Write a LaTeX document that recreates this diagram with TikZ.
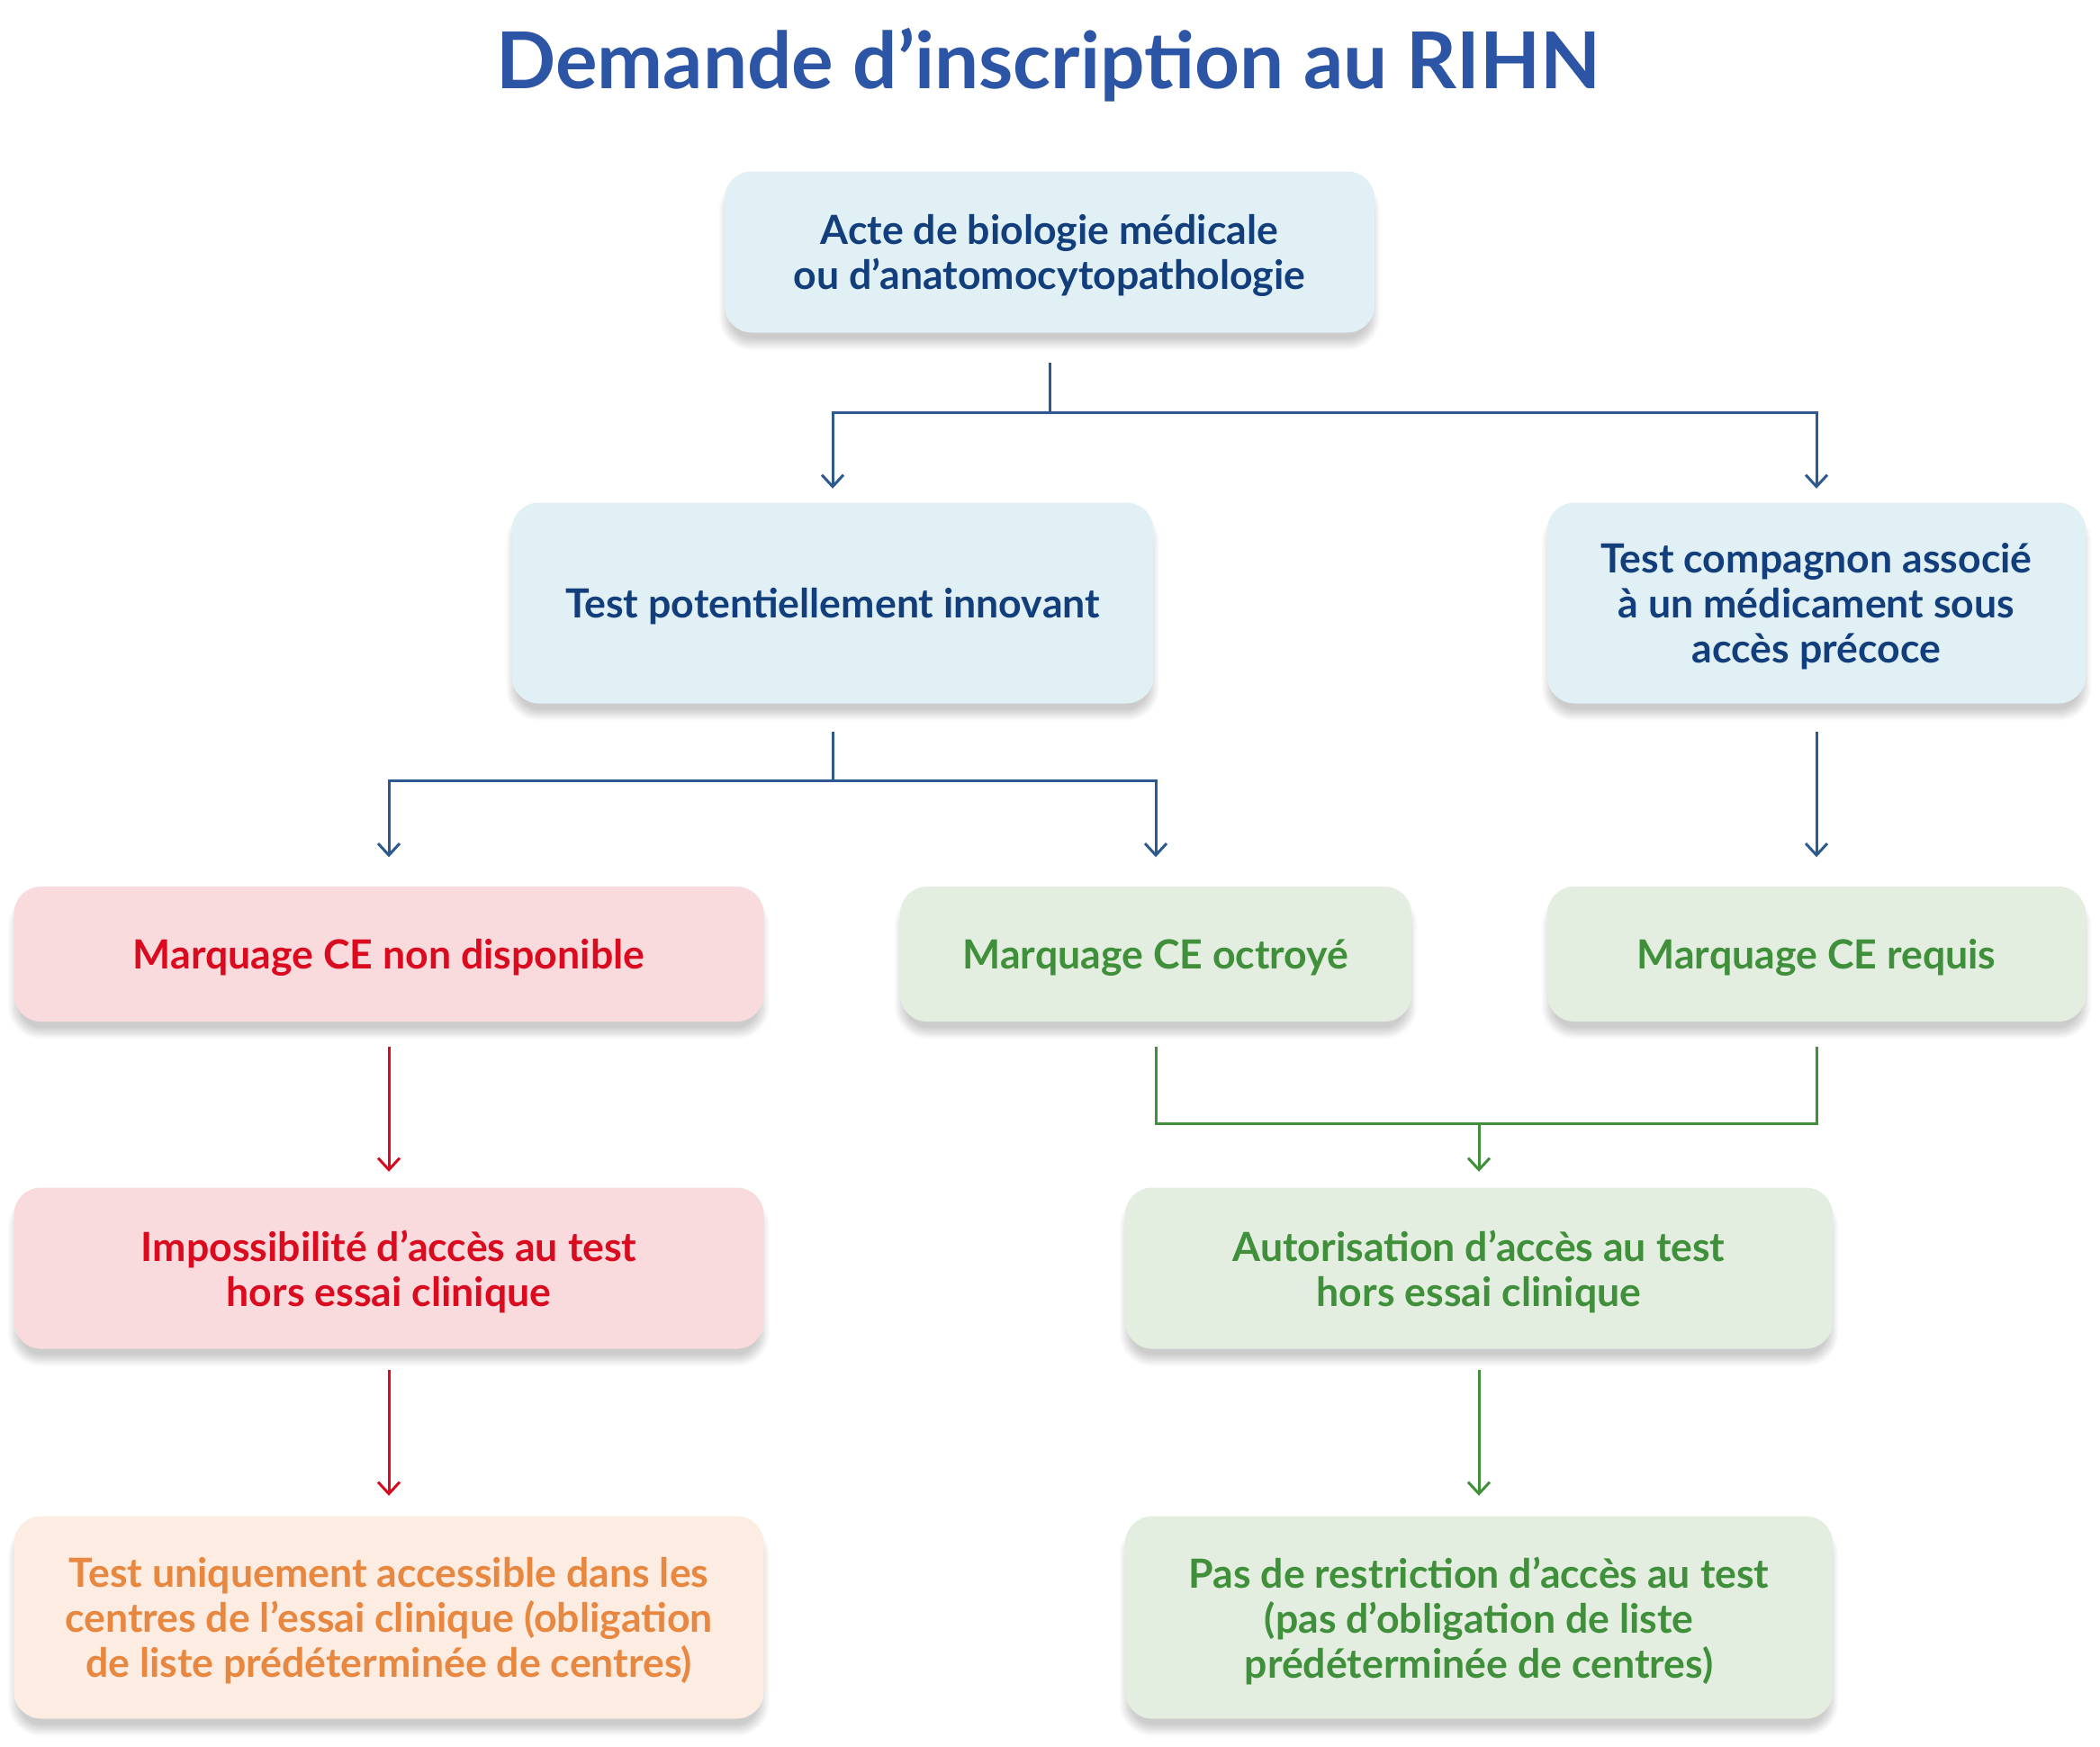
\documentclass[tikz,border=0pt]{standalone}
\usepackage{fontspec}
\setmainfont{Lato}
\usepackage{tikz}
\usepackage{xcolor}
\usetikzlibrary{arrows.meta,shadows.blur}

\definecolor{titleblue}{HTML}{2D55A5}
\definecolor{navytext}{HTML}{123E7C}
\definecolor{navyline}{HTML}{2C5A8E}
\definecolor{bluefill}{HTML}{E0F0F5}
\definecolor{redtext}{HTML}{DA0A1F}
\definecolor{redfill}{HTML}{F9DADD}
\definecolor{greentext}{HTML}{3F8F3B}
\definecolor{greenfill}{HTML}{E3EEE0}
\definecolor{orangetext}{HTML}{E8873F}
\definecolor{orangefill}{HTML}{FCECE2}

\tikzstyle{box} = [rectangle, rounded corners=3mm, align=center, inner sep=0pt, text depth=0pt,
  font=\bfseries\fontsize{12.7}{14.2}\selectfont,
  blur shadow={shadow xshift=0pt, shadow yshift=-1.3mm, shadow blur steps=12, shadow opacity=20}]
\tikzstyle{bluebox} = [box, fill=bluefill, text=navytext]
\tikzstyle{redbox} = [box, fill=redfill, text=redtext]
\tikzstyle{greenbox} = [box, fill=greenfill, text=greentext]
\tikzstyle{orangebox} = [box, fill=orangefill, text=orangetext]
\tikzstyle{link} = [line width=0.85pt]

\begin{document}
\begin{tikzpicture}[>={Straight Barb[length=1.3mm,width=2.4mm]},node distance=3.9cm]
  \useasboundingbox (0,0) rectangle (23.33,-19.40);
  \node[text=titleblue, font=\bfseries\fontsize{24.8}{28}\selectfont] (Titre) at (11.65,-0.72) {Demande d’inscription au RIHN};

  \node[bluebox, minimum width=7.22cm, minimum height=1.79cm] (Acte) at (11.66,-2.80) {Acte de biologie médicale\\ou d’anatomocytopathologie};
  \node[bluebox, minimum width=7.13cm, minimum height=2.23cm] (Innov) at (9.25,-6.70) {Test potentiellement innovant};
  \node[bluebox, minimum width=5.98cm, minimum height=2.23cm] (Compag) at (20.18,-6.70) {Test compagnon associé\\à un médicament sous\\accès précoce};

  \node[redbox, minimum width=8.33cm, minimum height=1.50cm] (NonDisp) at (4.32,-10.60) {Marquage CE non disponible};
  \node[greenbox, minimum width=5.68cm, minimum height=1.50cm] (Octroye) at (12.84,-10.60) {Marquage CE octroyé};
  \node[greenbox, minimum width=5.98cm, minimum height=1.50cm] (Requis) [below of=Compag] {Marquage CE requis};

  \node[redbox, minimum width=8.33cm, minimum height=1.79cm] (Imposs) [below of=NonDisp, node distance=3.49cm] {Impossibilité d’accès au test\\hors essai clinique};
  \node[greenbox, minimum width=7.86cm, minimum height=1.79cm] (Autor) at (16.43,-14.09) {Autorisation d’accès au test\\hors essai clinique};

  \node[orangebox, minimum width=8.33cm, minimum height=2.25cm] (Uniq) [below of=Imposs, node distance=3.88cm] {Test uniquement accessible dans les\\centres de l’essai clinique (obligation\\de liste prédéterminée de centres)};
  \node[greenbox, minimum width=7.86cm, minimum height=2.25cm] (PasRestr) [below of=Autor, node distance=3.88cm] {Pas de restriction d’accès au test\\(pas d’obligation de liste\\prédéterminée de centres)};

  \draw[link, navyline] ([yshift=-3.3mm]Acte.south) -- ([yshift=-8.8mm]Acte.south) coordinate (j1);
  \draw[link, navyline, ->] (j1) -| ([yshift=1.5mm]Innov.north);
  \draw[link, navyline, ->] (j1) -| ([yshift=1.5mm]Compag.north);

  \draw[link, navyline] ([yshift=-3.1mm]Innov.south) -- ([yshift=-8.5mm]Innov.south) coordinate (j2);
  \draw[link, navyline, ->] (j2) -| ([yshift=3.2mm]NonDisp.north);
  \draw[link, navyline, ->] (j2) -| ([yshift=3.2mm]Octroye.north);
  \draw[link, navyline, ->] ([yshift=-3.1mm]Compag.south) -- ([yshift=3.2mm]Requis.north);

  \draw[link, redtext, ->] ([yshift=-2.7mm]NonDisp.south) -- ([yshift=1.7mm]Imposs.north);
  \draw[link, redtext, ->] ([yshift=-2.3mm]Imposs.south) -- ([yshift=2.2mm]Uniq.north);

  \coordinate (j3) at ([yshift=7mm]Autor.north);
  \draw[link, greentext] ([yshift=-2.7mm]Octroye.south) |- (j3);
  \draw[link, greentext] ([yshift=-2.7mm]Requis.south) |- (j3);
  \draw[link, greentext, ->] (j3) -- ([yshift=1.7mm]Autor.north);
  \draw[link, greentext, ->] ([yshift=-2.3mm]Autor.south) -- ([yshift=2.2mm]PasRestr.north);
\end{tikzpicture}
\end{document}
